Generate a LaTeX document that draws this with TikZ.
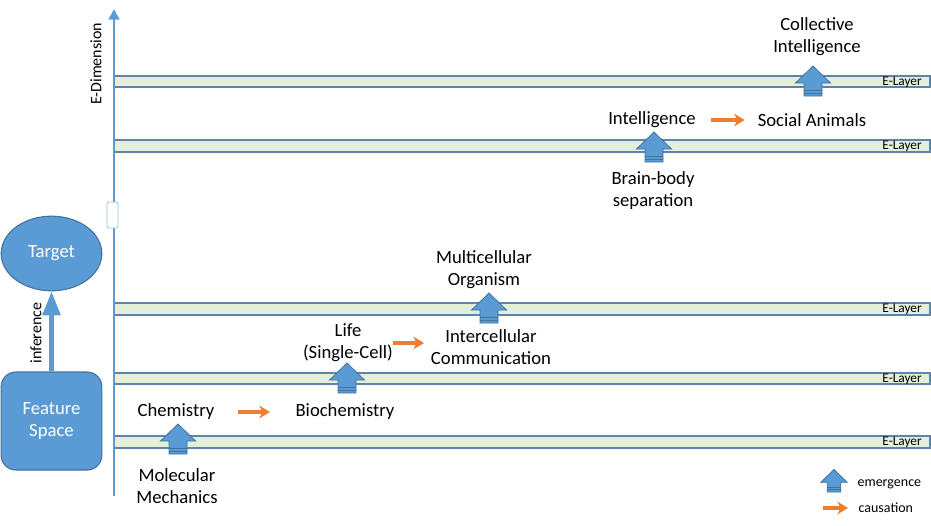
\documentclass[tikz,border=0pt]{standalone}
\usepackage{fontspec}
\setmainfont{Carlito}
\usetikzlibrary{arrows.meta,positioning,shapes.geometric,calc}

\definecolor{boxblue}{HTML}{5B9BD5}
\definecolor{edgeblue}{HTML}{41719C}
\definecolor{layergreen}{HTML}{E2EFDA}
\definecolor{layeredge}{HTML}{5E84AE}
\definecolor{causeorange}{HTML}{ED7D31}

\begin{document}
\begin{tikzpicture}[
    x=0.75pt, y=-0.75pt,
    label/.style={align=center, inner sep=1pt, font=\fontsize{14}{16.5}\selectfont},
    small/.style={inner sep=1pt, font=\fontsize{10.5}{12}\selectfont},
    layer/.style={draw=layeredge, fill=layergreen, line width=0.9pt},
    layertag/.style={anchor=east, inner sep=0pt, font=\fontsize{10}{12}\selectfont},
    axis/.style={draw=boxblue, line width=2.2pt, -{Triangle[length=8pt,width=8pt]}},
    cause/.style={draw=causeorange, line width=2.4pt, -{Stealth[length=8pt,width=9.5pt,inset=2.5pt]}},
    infer/.style={draw=boxblue, line width=3.7pt, -{Triangle[length=18pt,width=13pt]}},
    block/.style={
        fill=boxblue, draw=edgeblue, line width=0.8pt,
        text=white, align=center, inner sep=0pt,
        font=\fontsize{14}{16.5}\selectfont
    },
    emerge/.pic={
        \draw[fill=boxblue, draw=edgeblue, line width=0.6pt]
            (-9,0) -- (9,0) -- (9,-13) -- (17.5,-13) -- (0,-30)
            -- (-17.5,-13) -- (-9,-13) -- cycle;
        \draw[edgeblue, line width=0.6pt] (-9,-3) -- (9,-3) (-9,-5.5) -- (9,-5.5);
    }
]
\useasboundingbox (0,0) rectangle (931,525);

% E-layers
\foreach \ya/\yb in {76/87, 140/152, 303/315, 373/384, 436/448} {
    \draw[layer] (114,\ya) rectangle (930,\yb);
    \node[layertag] at (922,{(\ya+\yb)/2+0.5}) {E-Layer};
}

% E-dimension axis with break
\coordinate (axbot) at (114,496);
\coordinate (axtop) at (114,9);
\draw[axis] (axbot) -- (axtop);
\draw[fill=white, draw=boxblue!60, line width=0.6pt, rounded corners=1.5pt] (107,202) rectangle (118,228);
\node[rotate=90, inner sep=0pt, font=\fontsize{12}{14}\selectfont] (edim) at (96,64) {E-Dimension};

% target and features
\node[block, ellipse, minimum width=75.5pt, minimum height=56pt] (target) at (51.5,253.5) {Target};
\node[block, rectangle, rounded corners=11pt, minimum width=75.5pt, minimum height=73.5pt] (feat) at (51.5,421) {Feature\\Space};
\draw[infer] (feat.north) -- (target.south);
\node[rotate=90, inner sep=0pt, font=\fontsize{12}{14}\selectfont] (inflab) at (36,333) {inference};

% levels
\node[label] (molmech) at (177,486) {Molecular\\Mechanics};
\node[label] (chem) at (176,412) {Chemistry};
\node[label] (biochem) at (345,412) {Biochemistry};
\node[label] (life) at (348,343) {Life\\(Single-Cell)};
\node[label] (inter) at (491,347) {Intercellular\\Communication};
\node[label] (multi) at (484,270) {Multicellular\\Organism};
\node[label] (brain) at (653,191) {Brain-body\\separation};
\node[label] (intel) at (652,120) {Intelligence};
\node[label] (social) at (812,120) {Social Animals};
\node[label] (collect) at (817,37) {Collective\\Intelligence};

% emergence
\pic at (178,454) {emerge};
\pic at (347,393) {emerge};
\pic at (489,323) {emerge};
\pic at (654,162) {emerge};
\pic at (813,96) {emerge};

% causation
\draw[cause, shorten <=16.5pt, shorten >=18pt] (chem.east) -- (biochem.west);
\draw[cause, shorten <=-1.5pt, shorten >=4pt] (life.east) -- (life.east -| inter.west);
\draw[cause, shorten <=10.3pt, shorten >=8.6pt] (intel.east) -- (social.west);

% legend
\pic[scale=0.75] at (834,492) {emerge};
\node[small, anchor=west] (emlab) at (856,484) {emergence};
\coordinate (cstart) at (823,508);
\coordinate (cend) at (848,508);
\draw[cause] (cstart) -- (cend);
\node[small, anchor=west] (calab) at (857,508) {causation};

\end{tikzpicture}
\end{document}
